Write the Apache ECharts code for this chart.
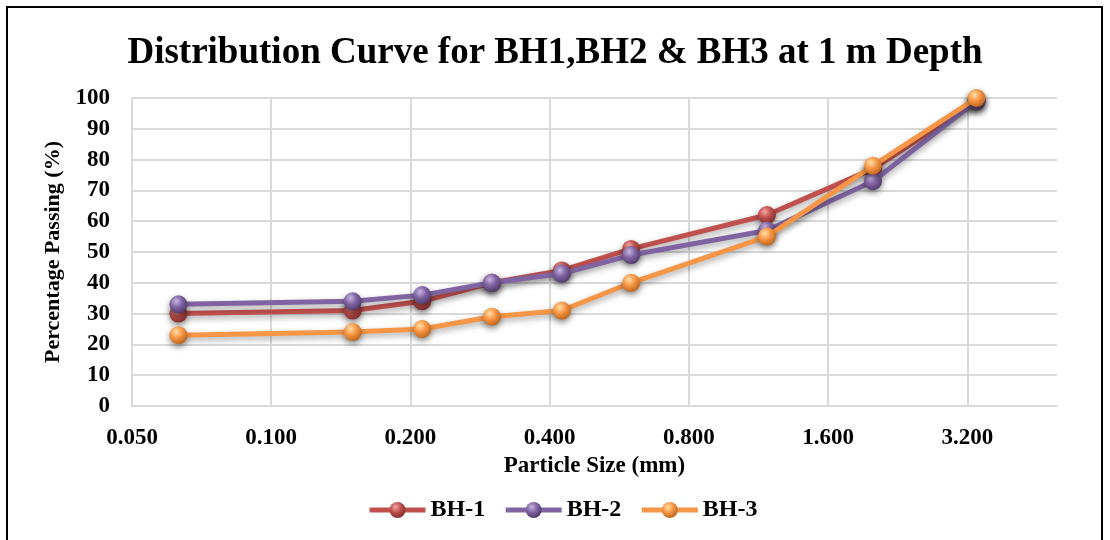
<!DOCTYPE html>
<html>
<head>
<meta charset="utf-8">
<script src="https://cdn.jsdelivr.net/npm/echarts@6/dist/echarts.min.js"></script>
<style>
html,body{margin:0;padding:0;background:#fff;}
#frame{position:absolute;left:6px;top:6px;width:1097px;height:545px;border:2px solid #000;box-sizing:border-box;}
#chart{position:absolute;left:0;top:0;width:1110px;height:540px;}
</style>
</head>
<body>
<div id="frame"></div>
<div id="chart"></div>
<script>
// Particle sizes (mm)
const sizes = [0.063, 0.15, 0.212, 0.3, 0.425, 0.6, 1.18, 2.0, 3.35];
const bh1 = [30, 31, 34, 40, 44, 51, 62, 77, 99];
const bh2 = [33, 34, 36, 40, 43, 49, 57, 73, 99];
const bh3 = [23, 24, 25, 29, 31, 40, 55, 78, 100];
const seriesNames = ['BH-1', 'BH-2', 'BH-3'];
const xMinSize = 0.05;
const xMaxSize = 5.0;

const FONT = '"Liberation Serif", "Times New Roman", serif';
const toX = d => Math.log2(d / xMinSize);
const pts = arr => arr.map((v, i) => [toX(sizes[i]), v]);

function ball(light, base, dark) {
  return new echarts.graphic.RadialGradient(0.38, 0.32, 0.75, [
    {offset: 0, color: light},
    {offset: 0.45, color: base},
    {offset: 1, color: dark}
  ]);
}
const cols = [
  {line: '#C0504D', light: '#F2A7A5', base: '#C0504D', dark: '#7A2B29'},
  {line: '#8064A2', light: '#C9B6E3', base: '#8064A2', dark: '#4B3566'},
  {line: '#F79646', light: '#FFE0A8', base: '#F79646', dark: '#B65F14'}
];
const data = [bh1, bh2, bh3];

const chart = echarts.init(document.getElementById('chart'));
chart.setOption({
  animation: false,
  backgroundColor: 'transparent',
  title: {
    text: 'Distribution Curve for BH1,BH2 & BH3 at 1 m Depth',
    left: 'center', top: 30,
    textStyle: {fontFamily: FONT, fontWeight: 'bold', fontSize: 37, color: '#000'}
  },
  legend: {
    bottom: 13, left: 362,
    itemWidth: 56, itemHeight: 20, itemGap: 18,
    lineStyle: {width: 5},
    textStyle: {fontFamily: FONT, fontWeight: 'bold', fontSize: 24, color: '#000'},
    data: seriesNames
  },
  grid: {left: 132, right: 53, top: 98, bottom: 134},
  xAxis: {
    type: 'value', min: 0, max: toX(xMaxSize), interval: 1,
    name: 'Particle Size (mm)', nameLocation: 'middle', nameGap: 49,
    nameTextStyle: {fontFamily: FONT, fontWeight: 'bold', fontSize: 23, color: '#000'},
    axisLine: {show: true, lineStyle: {color: '#d9d9d9', width: 2}},
    axisTick: {show: false},
    axisLabel: {
      showMaxLabel: false, margin: 21,
      fontFamily: FONT, fontWeight: 'bold', fontSize: 23, color: '#000',
      formatter: v => (xMinSize * Math.pow(2, v)).toFixed(3)
    },
    splitLine: {show: true, showMaxLine: false, lineStyle: {color: '#d9d9d9', width: 2}}
  },
  yAxis: {
    type: 'value', min: 0, max: 100, interval: 10,
    name: 'Percentage Passing (%)', nameLocation: 'middle', nameGap: 63,
    nameTextStyle: {fontFamily: FONT, fontWeight: 'bold', fontSize: 22, color: '#000'},
    axisLine: {show: false},
    axisTick: {show: false},
    axisLabel: {margin: 22, fontFamily: FONT, fontWeight: 'bold', fontSize: 23, color: '#000'},
    splitLine: {show: true, lineStyle: {color: '#d9d9d9', width: 2}}
  },
  series: data.map((arr, i) => ({
    name: seriesNames[i],
    type: 'line',
    data: pts(arr),
    symbol: 'circle',
    symbolSize: 18,
    lineStyle: {color: cols[i].line, width: 5, shadowColor: 'rgba(0,0,0,0.35)', shadowBlur: 6, shadowOffsetY: 3},
    itemStyle: {
      color: ball(cols[i].light, cols[i].base, cols[i].dark),
      borderWidth: 0,
      shadowColor: 'rgba(0,0,0,0.45)', shadowBlur: 6, shadowOffsetY: 3
    },
    z: 2 + i
  }))
});
</script>
</body>
</html>
